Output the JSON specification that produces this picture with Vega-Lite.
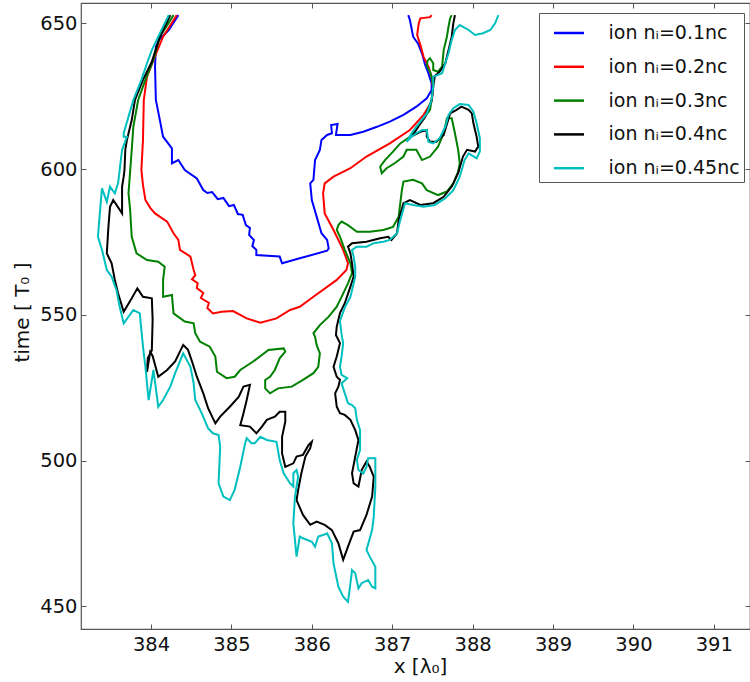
{
"$schema":"https://vega.github.io/schema/vega-lite/v6.json",
"width":669,"height":626,
"autosize":{"type":"none"},
"padding":{"left":81,"top":3,"right":0,"bottom":53},
"background":"white",
"config":{"view":{"stroke":"#555","strokeWidth":1.2},"font":"DejaVu Sans"},
"data":{"values":[
{"s":"0.1","x":384.34,"y":652.8},{"s":"0.1","x":384.22,"y":647.7},{"s":"0.1","x":384.10,"y":644.3},{"s":"0.1","x":384.06,"y":642.0},{"s":"0.1","x":384.05,"y":635.1},{"s":"0.1","x":384.06,"y":623.7},{"s":"0.1","x":384.11,"y":616.8},{"s":"0.1","x":384.15,"y":611.1},{"s":"0.1","x":384.26,"y":607.1},{"s":"0.1","x":384.26,"y":602.0},{"s":"0.1","x":384.34,"y":603.1},{"s":"0.1","x":384.42,"y":599.7},{"s":"0.1","x":384.57,"y":596.8},{"s":"0.1","x":384.65,"y":592.8},{"s":"0.1","x":384.70,"y":591.8},{"s":"0.1","x":384.76,"y":592.1},{"s":"0.1","x":384.83,"y":589.7},{"s":"0.1","x":384.90,"y":590.1},{"s":"0.1","x":384.97,"y":587.3},{"s":"0.1","x":385.03,"y":587.7},{"s":"0.1","x":385.08,"y":584.6},{"s":"0.1","x":385.14,"y":584.3},{"s":"0.1","x":385.18,"y":580.8},{"s":"0.1","x":385.23,"y":579.8},{"s":"0.1","x":385.22,"y":577.4},{"s":"0.1","x":385.28,"y":575.7},{"s":"0.1","x":385.26,"y":573.6},{"s":"0.1","x":385.31,"y":572.3},{"s":"0.1","x":385.31,"y":570.5},{"s":"0.1","x":385.45,"y":570.3},{"s":"0.1","x":385.60,"y":570.0},{"s":"0.1","x":385.63,"y":567.7},{"s":"0.1","x":385.85,"y":569.4},{"s":"0.1","x":386.19,"y":572.0},{"s":"0.1","x":386.21,"y":572.8},{"s":"0.1","x":386.19,"y":575.7},{"s":"0.1","x":386.12,"y":578.0},{"s":"0.1","x":386.06,"y":583.7},{"s":"0.1","x":386.00,"y":589.4},{"s":"0.1","x":385.98,"y":595.1},{"s":"0.1","x":386.02,"y":596.3},{"s":"0.1","x":386.04,"y":603.1},{"s":"0.1","x":386.10,"y":606.6},{"s":"0.1","x":386.12,"y":610.0},{"s":"0.1","x":386.19,"y":611.7},{"s":"0.1","x":386.25,"y":612.3},{"s":"0.1","x":386.24,"y":615.1},{"s":"0.1","x":386.32,"y":615.5},{"s":"0.1","x":386.30,"y":611.7},{"s":"0.1","x":386.48,"y":611.7},{"s":"0.1","x":386.64,"y":612.8},{"s":"0.1","x":386.81,"y":614.5},{"s":"0.1","x":386.97,"y":616.3},{"s":"0.1","x":387.14,"y":618.6},{"s":"0.1","x":387.30,"y":621.4},{"s":"0.1","x":387.43,"y":624.3},{"s":"0.1","x":387.49,"y":627.1},{"s":"0.1","x":387.49,"y":629.4},{"s":"0.1","x":387.45,"y":632.9},{"s":"0.1","x":387.41,"y":635.7},{"s":"0.1","x":387.37,"y":639.7},{"s":"0.1","x":387.32,"y":643.1},{"s":"0.1","x":387.26,"y":645.4},{"s":"0.1","x":387.24,"y":648.3},{"s":"0.1","x":387.22,"y":651.1},{"s":"0.1","x":387.20,"y":652.8},
{"s":"0.2","x":384.32,"y":652.8},{"s":"0.2","x":384.15,"y":645.4},{"s":"0.2","x":384.03,"y":637.4},{"s":"0.2","x":383.95,"y":631.7},{"s":"0.2","x":383.91,"y":623.7},{"s":"0.2","x":383.90,"y":610.0},{"s":"0.2","x":383.88,"y":599.7},{"s":"0.2","x":383.90,"y":594.5},{"s":"0.2","x":383.93,"y":589.4},{"s":"0.2","x":383.99,"y":586.7},{"s":"0.2","x":384.05,"y":584.8},{"s":"0.2","x":384.20,"y":582.0},{"s":"0.2","x":384.28,"y":578.0},{"s":"0.2","x":384.34,"y":575.7},{"s":"0.2","x":384.36,"y":572.3},{"s":"0.2","x":384.49,"y":570.0},{"s":"0.2","x":384.53,"y":565.4},{"s":"0.2","x":384.55,"y":563.6},{"s":"0.2","x":384.51,"y":562.2},{"s":"0.2","x":384.58,"y":560.9},{"s":"0.2","x":384.57,"y":559.2},{"s":"0.2","x":384.65,"y":557.5},{"s":"0.2","x":384.62,"y":555.8},{"s":"0.2","x":384.72,"y":554.1},{"s":"0.2","x":384.70,"y":552.4},{"s":"0.2","x":384.77,"y":550.5},{"s":"0.2","x":384.88,"y":551.1},{"s":"0.2","x":385.02,"y":551.3},{"s":"0.2","x":385.19,"y":548.8},{"s":"0.2","x":385.36,"y":547.3},{"s":"0.2","x":385.56,"y":548.8},{"s":"0.2","x":385.73,"y":551.7},{"s":"0.2","x":385.85,"y":552.8},{"s":"0.2","x":386.02,"y":556.2},{"s":"0.2","x":386.31,"y":562.0},{"s":"0.2","x":386.43,"y":565.4},{"s":"0.2","x":386.45,"y":567.7},{"s":"0.2","x":386.39,"y":572.3},{"s":"0.2","x":386.27,"y":579.1},{"s":"0.2","x":386.16,"y":584.8},{"s":"0.2","x":386.14,"y":591.7},{"s":"0.2","x":386.16,"y":595.1},{"s":"0.2","x":386.27,"y":597.4},{"s":"0.2","x":386.48,"y":600.3},{"s":"0.2","x":386.68,"y":604.3},{"s":"0.2","x":386.97,"y":608.8},{"s":"0.2","x":387.22,"y":613.4},{"s":"0.2","x":387.39,"y":618.6},{"s":"0.2","x":387.49,"y":623.1},{"s":"0.2","x":387.51,"y":627.1},{"s":"0.2","x":387.49,"y":631.7},{"s":"0.2","x":387.45,"y":635.1},{"s":"0.2","x":387.39,"y":638.5},{"s":"0.2","x":387.35,"y":642.6},{"s":"0.2","x":387.31,"y":646.0},{"s":"0.2","x":387.33,"y":650.0},{"s":"0.2","x":387.35,"y":651.7},{"s":"0.2","x":387.47,"y":652.1},{"s":"0.2","x":387.49,"y":652.8},
{"s":"0.3","x":384.28,"y":652.8},{"s":"0.3","x":384.11,"y":645.4},{"s":"0.3","x":384.03,"y":637.4},{"s":"0.3","x":383.93,"y":630.6},{"s":"0.3","x":383.84,"y":623.7},{"s":"0.3","x":383.78,"y":614.5},{"s":"0.3","x":383.76,"y":606.6},{"s":"0.3","x":383.72,"y":591.7},{"s":"0.3","x":383.74,"y":586.0},{"s":"0.3","x":383.76,"y":576.8},{"s":"0.3","x":383.82,"y":571.1},{"s":"0.3","x":383.95,"y":568.8},{"s":"0.3","x":384.09,"y":568.2},{"s":"0.3","x":384.17,"y":566.5},{"s":"0.3","x":384.15,"y":562.0},{"s":"0.3","x":384.15,"y":556.2},{"s":"0.3","x":384.26,"y":556.8},{"s":"0.3","x":384.28,"y":550.5},{"s":"0.3","x":384.42,"y":547.7},{"s":"0.3","x":384.53,"y":547.1},{"s":"0.3","x":384.55,"y":543.7},{"s":"0.3","x":384.61,"y":540.8},{"s":"0.3","x":384.73,"y":539.1},{"s":"0.3","x":384.80,"y":535.7},{"s":"0.3","x":384.82,"y":530.5},{"s":"0.3","x":384.94,"y":528.3},{"s":"0.3","x":385.04,"y":528.8},{"s":"0.3","x":385.11,"y":531.1},{"s":"0.3","x":385.27,"y":534.0},{"s":"0.3","x":385.46,"y":538.0},{"s":"0.3","x":385.65,"y":538.5},{"s":"0.3","x":385.67,"y":537.4},{"s":"0.3","x":385.60,"y":535.1},{"s":"0.3","x":385.54,"y":531.1},{"s":"0.3","x":385.48,"y":528.8},{"s":"0.3","x":385.42,"y":527.7},{"s":"0.3","x":385.42,"y":524.8},{"s":"0.3","x":385.48,"y":523.1},{"s":"0.3","x":385.58,"y":524.8},{"s":"0.3","x":385.75,"y":525.4},{"s":"0.3","x":385.89,"y":527.7},{"s":"0.3","x":386.02,"y":530.0},{"s":"0.3","x":386.08,"y":532.2},{"s":"0.3","x":386.10,"y":536.8},{"s":"0.3","x":386.06,"y":539.7},{"s":"0.3","x":386.04,"y":542.5},{"s":"0.3","x":386.02,"y":543.7},{"s":"0.3","x":386.10,"y":546.5},{"s":"0.3","x":386.21,"y":549.4},{"s":"0.3","x":386.31,"y":552.8},{"s":"0.3","x":386.37,"y":556.2},{"s":"0.3","x":386.45,"y":560.8},{"s":"0.3","x":386.50,"y":564.3},{"s":"0.3","x":386.48,"y":567.7},{"s":"0.3","x":386.41,"y":572.3},{"s":"0.3","x":386.35,"y":576.8},{"s":"0.3","x":386.31,"y":579.1},{"s":"0.3","x":386.33,"y":580.8},{"s":"0.3","x":386.37,"y":582.0},{"s":"0.3","x":386.45,"y":580.8},{"s":"0.3","x":386.56,"y":578.5},{"s":"0.3","x":386.72,"y":578.5},{"s":"0.3","x":386.89,"y":579.1},{"s":"0.3","x":387.01,"y":580.2},{"s":"0.3","x":387.08,"y":583.7},{"s":"0.3","x":387.12,"y":592.8},{"s":"0.3","x":387.14,"y":595.7},{"s":"0.3","x":387.26,"y":596.3},{"s":"0.3","x":387.37,"y":595.1},{"s":"0.3","x":387.43,"y":592.8},{"s":"0.3","x":387.57,"y":591.1},{"s":"0.3","x":387.68,"y":592.3},{"s":"0.3","x":387.76,"y":595.1},{"s":"0.3","x":387.82,"y":599.1},{"s":"0.3","x":387.84,"y":602.0},{"s":"0.3","x":387.82,"y":606.6},{"s":"0.3","x":387.78,"y":612.3},{"s":"0.3","x":387.74,"y":617.4},{"s":"0.3","x":387.68,"y":617.4},{"s":"0.3","x":387.64,"y":612.3},{"s":"0.3","x":387.57,"y":607.7},{"s":"0.3","x":387.47,"y":604.3},{"s":"0.3","x":387.37,"y":603.1},{"s":"0.3","x":387.30,"y":606.6},{"s":"0.3","x":387.18,"y":606.6},{"s":"0.3","x":387.14,"y":604.3},{"s":"0.3","x":387.03,"y":602.0},{"s":"0.3","x":386.93,"y":600.3},{"s":"0.3","x":386.87,"y":598.6},{"s":"0.3","x":386.85,"y":600.8},{"s":"0.3","x":386.91,"y":603.1},{"s":"0.3","x":387.01,"y":606.0},{"s":"0.3","x":387.10,"y":608.8},{"s":"0.3","x":387.22,"y":611.1},{"s":"0.3","x":387.30,"y":614.5},{"s":"0.3","x":387.39,"y":617.4},{"s":"0.3","x":387.47,"y":620.3},{"s":"0.3","x":387.49,"y":623.7},{"s":"0.3","x":387.51,"y":628.3},{"s":"0.3","x":387.49,"y":631.7},{"s":"0.3","x":387.47,"y":633.4},{"s":"0.3","x":387.43,"y":635.4},{"s":"0.3","x":387.44,"y":637.2},{"s":"0.3","x":387.47,"y":638.0},{"s":"0.3","x":387.51,"y":636.3},{"s":"0.3","x":387.51,"y":634.0},{"s":"0.3","x":387.57,"y":633.4},{"s":"0.3","x":387.62,"y":635.1},{"s":"0.3","x":387.64,"y":640.8},{"s":"0.3","x":387.68,"y":645.4},{"s":"0.3","x":387.70,"y":648.8},{"s":"0.3","x":387.72,"y":651.7},{"s":"0.3","x":387.74,"y":652.8},
{"s":"0.4","x":384.24,"y":652.8},{"s":"0.4","x":384.11,"y":645.4},{"s":"0.4","x":384.01,"y":636.8},{"s":"0.4","x":383.90,"y":630.6},{"s":"0.4","x":383.80,"y":623.7},{"s":"0.4","x":383.76,"y":616.8},{"s":"0.4","x":383.70,"y":610.0},{"s":"0.4","x":383.68,"y":606.6},{"s":"0.4","x":383.67,"y":599.7},{"s":"0.4","x":383.66,"y":597.4},{"s":"0.4","x":383.64,"y":594.0},{"s":"0.4","x":383.64,"y":584.8},{"s":"0.4","x":383.53,"y":589.4},{"s":"0.4","x":383.49,"y":587.1},{"s":"0.4","x":383.47,"y":580.2},{"s":"0.4","x":383.45,"y":571.1},{"s":"0.4","x":383.51,"y":567.7},{"s":"0.4","x":383.55,"y":562.0},{"s":"0.4","x":383.59,"y":557.4},{"s":"0.4","x":383.66,"y":551.1},{"s":"0.4","x":383.76,"y":555.7},{"s":"0.4","x":383.83,"y":559.1},{"s":"0.4","x":383.90,"y":556.2},{"s":"0.4","x":384.01,"y":555.7},{"s":"0.4","x":384.02,"y":548.3},{"s":"0.4","x":384.01,"y":537.9},{"s":"0.4","x":383.96,"y":535.2},{"s":"0.4","x":383.95,"y":530.5},{"s":"0.4","x":383.99,"y":537.3},{"s":"0.4","x":384.02,"y":535.9},{"s":"0.4","x":384.09,"y":528.8},{"s":"0.4","x":384.20,"y":531.1},{"s":"0.4","x":384.30,"y":534.0},{"s":"0.4","x":384.40,"y":539.7},{"s":"0.4","x":384.46,"y":538.0},{"s":"0.4","x":384.51,"y":534.0},{"s":"0.4","x":384.57,"y":528.8},{"s":"0.4","x":384.65,"y":523.1},{"s":"0.4","x":384.71,"y":518.0},{"s":"0.4","x":384.80,"y":512.8},{"s":"0.4","x":384.86,"y":515.1},{"s":"0.4","x":384.98,"y":518.5},{"s":"0.4","x":385.09,"y":521.9},{"s":"0.4","x":385.15,"y":525.4},{"s":"0.4","x":385.23,"y":526.0},{"s":"0.4","x":385.19,"y":520.8},{"s":"0.4","x":385.15,"y":516.3},{"s":"0.4","x":385.11,"y":512.2},{"s":"0.4","x":385.23,"y":511.7},{"s":"0.4","x":385.31,"y":509.4},{"s":"0.4","x":385.38,"y":511.7},{"s":"0.4","x":385.44,"y":514.0},{"s":"0.4","x":385.54,"y":515.1},{"s":"0.4","x":385.60,"y":516.8},{"s":"0.4","x":385.67,"y":516.8},{"s":"0.4","x":385.67,"y":513.4},{"s":"0.4","x":385.63,"y":508.2},{"s":"0.4","x":385.63,"y":502.5},{"s":"0.4","x":385.67,"y":497.9},{"s":"0.4","x":385.77,"y":499.1},{"s":"0.4","x":385.81,"y":501.4},{"s":"0.4","x":385.89,"y":502.0},{"s":"0.4","x":385.96,"y":505.4},{"s":"0.4","x":386.00,"y":506.5},{"s":"0.4","x":385.98,"y":504.3},{"s":"0.4","x":385.92,"y":501.4},{"s":"0.4","x":385.87,"y":495.7},{"s":"0.4","x":385.83,"y":490.0},{"s":"0.4","x":385.81,"y":486.5},{"s":"0.4","x":385.89,"y":481.4},{"s":"0.4","x":385.98,"y":478.0},{"s":"0.4","x":386.06,"y":479.1},{"s":"0.4","x":386.16,"y":478.0},{"s":"0.4","x":386.25,"y":476.2},{"s":"0.4","x":386.33,"y":471.7},{"s":"0.4","x":386.39,"y":466.0},{"s":"0.4","x":386.45,"y":470.5},{"s":"0.4","x":386.52,"y":475.7},{"s":"0.4","x":386.60,"y":476.2},{"s":"0.4","x":386.68,"y":481.4},{"s":"0.4","x":386.75,"y":487.7},{"s":"0.4","x":386.77,"y":494.5},{"s":"0.4","x":386.72,"y":497.9},{"s":"0.4","x":386.68,"y":499.7},{"s":"0.4","x":386.62,"y":496.8},{"s":"0.4","x":386.58,"y":491.1},{"s":"0.4","x":386.52,"y":492.2},{"s":"0.4","x":386.50,"y":495.7},{"s":"0.4","x":386.54,"y":501.4},{"s":"0.4","x":386.58,"y":507.1},{"s":"0.4","x":386.54,"y":510.5},{"s":"0.4","x":386.48,"y":514.0},{"s":"0.4","x":386.41,"y":515.7},{"s":"0.4","x":386.35,"y":516.3},{"s":"0.4","x":386.31,"y":518.5},{"s":"0.4","x":386.29,"y":523.1},{"s":"0.4","x":386.33,"y":525.4},{"s":"0.4","x":386.35,"y":527.7},{"s":"0.4","x":386.31,"y":528.8},{"s":"0.4","x":386.27,"y":532.2},{"s":"0.4","x":386.31,"y":535.7},{"s":"0.4","x":386.35,"y":540.3},{"s":"0.4","x":386.30,"y":543.1},{"s":"0.4","x":386.31,"y":546.0},{"s":"0.4","x":386.35,"y":550.6},{"s":"0.4","x":386.41,"y":554.0},{"s":"0.4","x":386.48,"y":559.7},{"s":"0.4","x":386.52,"y":563.1},{"s":"0.4","x":386.50,"y":567.7},{"s":"0.4","x":386.48,"y":571.1},{"s":"0.4","x":386.45,"y":573.4},{"s":"0.4","x":386.50,"y":574.6},{"s":"0.4","x":386.68,"y":575.1},{"s":"0.4","x":386.85,"y":576.3},{"s":"0.4","x":386.95,"y":576.8},{"s":"0.4","x":386.99,"y":575.7},{"s":"0.4","x":387.06,"y":578.0},{"s":"0.4","x":387.08,"y":582.5},{"s":"0.4","x":387.14,"y":588.3},{"s":"0.4","x":387.22,"y":589.4},{"s":"0.4","x":387.35,"y":587.7},{"s":"0.4","x":387.51,"y":588.3},{"s":"0.4","x":387.64,"y":590.5},{"s":"0.4","x":387.74,"y":594.0},{"s":"0.4","x":387.82,"y":598.6},{"s":"0.4","x":387.88,"y":604.3},{"s":"0.4","x":387.93,"y":606.6},{"s":"0.4","x":388.03,"y":606.0},{"s":"0.4","x":388.07,"y":607.7},{"s":"0.4","x":388.05,"y":611.1},{"s":"0.4","x":388.01,"y":615.7},{"s":"0.4","x":387.99,"y":619.1},{"s":"0.4","x":387.95,"y":620.3},{"s":"0.4","x":387.86,"y":621.4},{"s":"0.4","x":387.80,"y":620.3},{"s":"0.4","x":387.72,"y":619.1},{"s":"0.4","x":387.64,"y":611.7},{"s":"0.4","x":387.55,"y":609.4},{"s":"0.4","x":387.47,"y":609.4},{"s":"0.4","x":387.43,"y":611.1},{"s":"0.4","x":387.43,"y":613.4},{"s":"0.4","x":387.35,"y":612.8},{"s":"0.4","x":387.25,"y":611.4},{"s":"0.4","x":387.32,"y":614.4},{"s":"0.4","x":387.41,"y":617.9},{"s":"0.4","x":387.49,"y":623.7},{"s":"0.4","x":387.51,"y":628.3},{"s":"0.4","x":387.53,"y":631.9},{"s":"0.4","x":387.59,"y":633.4},{"s":"0.4","x":387.66,"y":636.3},{"s":"0.4","x":387.70,"y":640.8},{"s":"0.4","x":387.74,"y":645.4},{"s":"0.4","x":387.76,"y":650.0},{"s":"0.4","x":387.78,"y":652.8},
{"s":"0.45","x":384.22,"y":652.8},{"s":"0.45","x":384.07,"y":644.3},{"s":"0.45","x":384.01,"y":640.8},{"s":"0.45","x":383.95,"y":636.3},{"s":"0.45","x":383.88,"y":630.6},{"s":"0.45","x":383.78,"y":623.7},{"s":"0.45","x":383.72,"y":618.0},{"s":"0.45","x":383.66,"y":612.3},{"s":"0.45","x":383.66,"y":611.1},{"s":"0.45","x":383.70,"y":611.1},{"s":"0.45","x":383.64,"y":606.6},{"s":"0.45","x":383.61,"y":599.7},{"s":"0.45","x":383.59,"y":595.1},{"s":"0.45","x":383.55,"y":591.7},{"s":"0.45","x":383.49,"y":594.0},{"s":"0.45","x":383.45,"y":588.8},{"s":"0.45","x":383.39,"y":593.4},{"s":"0.45","x":383.37,"y":587.1},{"s":"0.45","x":383.34,"y":576.8},{"s":"0.45","x":383.39,"y":572.3},{"s":"0.45","x":383.45,"y":565.4},{"s":"0.45","x":383.51,"y":563.1},{"s":"0.45","x":383.57,"y":558.5},{"s":"0.45","x":383.61,"y":552.8},{"s":"0.45","x":383.66,"y":547.1},{"s":"0.45","x":383.78,"y":551.7},{"s":"0.45","x":383.86,"y":550.5},{"s":"0.45","x":383.90,"y":539.1},{"s":"0.45","x":383.93,"y":532.2},{"s":"0.45","x":383.97,"y":520.8},{"s":"0.45","x":384.03,"y":531.1},{"s":"0.45","x":384.09,"y":518.5},{"s":"0.45","x":384.15,"y":520.8},{"s":"0.45","x":384.24,"y":525.4},{"s":"0.45","x":384.30,"y":530.0},{"s":"0.45","x":384.40,"y":536.8},{"s":"0.45","x":384.49,"y":532.2},{"s":"0.45","x":384.53,"y":526.5},{"s":"0.45","x":384.55,"y":520.8},{"s":"0.45","x":384.63,"y":516.3},{"s":"0.45","x":384.71,"y":511.1},{"s":"0.45","x":384.77,"y":509.4},{"s":"0.45","x":384.84,"y":508.8},{"s":"0.45","x":384.86,"y":504.8},{"s":"0.45","x":384.84,"y":492.2},{"s":"0.45","x":384.90,"y":487.7},{"s":"0.45","x":384.98,"y":486.5},{"s":"0.45","x":385.04,"y":490.0},{"s":"0.45","x":385.11,"y":497.9},{"s":"0.45","x":385.17,"y":505.9},{"s":"0.45","x":385.19,"y":507.7},{"s":"0.45","x":385.25,"y":506.0},{"s":"0.45","x":385.29,"y":506.0},{"s":"0.45","x":385.36,"y":508.2},{"s":"0.45","x":385.44,"y":507.1},{"s":"0.45","x":385.56,"y":506.5},{"s":"0.45","x":385.60,"y":500.2},{"s":"0.45","x":385.65,"y":495.7},{"s":"0.45","x":385.73,"y":492.2},{"s":"0.45","x":385.77,"y":491.1},{"s":"0.45","x":385.77,"y":495.7},{"s":"0.45","x":385.81,"y":496.8},{"s":"0.45","x":385.83,"y":494.5},{"s":"0.45","x":385.79,"y":487.7},{"s":"0.45","x":385.77,"y":478.5},{"s":"0.45","x":385.81,"y":467.1},{"s":"0.45","x":385.85,"y":474.0},{"s":"0.45","x":385.89,"y":473.4},{"s":"0.45","x":386.00,"y":472.2},{"s":"0.45","x":386.04,"y":470.5},{"s":"0.45","x":386.08,"y":474.0},{"s":"0.45","x":386.14,"y":474.5},{"s":"0.45","x":386.19,"y":475.1},{"s":"0.45","x":386.25,"y":471.7},{"s":"0.45","x":386.27,"y":464.8},{"s":"0.45","x":386.33,"y":456.8},{"s":"0.45","x":386.39,"y":453.4},{"s":"0.45","x":386.45,"y":451.6},{"s":"0.45","x":386.48,"y":457.9},{"s":"0.45","x":386.50,"y":462.5},{"s":"0.45","x":386.54,"y":461.4},{"s":"0.45","x":386.58,"y":456.2},{"s":"0.45","x":386.62,"y":458.0},{"s":"0.45","x":386.70,"y":459.1},{"s":"0.45","x":386.75,"y":456.8},{"s":"0.45","x":386.79,"y":456.2},{"s":"0.45","x":386.79,"y":463.6},{"s":"0.45","x":386.72,"y":467.1},{"s":"0.45","x":386.68,"y":469.4},{"s":"0.45","x":386.75,"y":476.2},{"s":"0.45","x":386.77,"y":480.8},{"s":"0.45","x":386.79,"y":491.1},{"s":"0.45","x":386.79,"y":500.8},{"s":"0.45","x":386.70,"y":500.8},{"s":"0.45","x":386.68,"y":497.9},{"s":"0.45","x":386.64,"y":495.6},{"s":"0.45","x":386.58,"y":496.8},{"s":"0.45","x":386.56,"y":500.2},{"s":"0.45","x":386.60,"y":503.7},{"s":"0.45","x":386.60,"y":510.5},{"s":"0.45","x":386.56,"y":514.0},{"s":"0.45","x":386.54,"y":518.0},{"s":"0.45","x":386.50,"y":519.1},{"s":"0.45","x":386.45,"y":519.7},{"s":"0.45","x":386.41,"y":523.1},{"s":"0.45","x":386.37,"y":526.5},{"s":"0.45","x":386.44,"y":528.3},{"s":"0.45","x":386.37,"y":529.4},{"s":"0.45","x":386.35,"y":532.2},{"s":"0.45","x":386.37,"y":535.7},{"s":"0.45","x":386.39,"y":540.3},{"s":"0.45","x":386.37,"y":543.3},{"s":"0.45","x":386.35,"y":547.9},{"s":"0.45","x":386.41,"y":552.5},{"s":"0.45","x":386.48,"y":556.2},{"s":"0.45","x":386.54,"y":563.1},{"s":"0.45","x":386.54,"y":566.5},{"s":"0.45","x":386.52,"y":570.0},{"s":"0.45","x":386.50,"y":572.3},{"s":"0.45","x":386.56,"y":573.4},{"s":"0.45","x":386.68,"y":573.4},{"s":"0.45","x":386.77,"y":574.6},{"s":"0.45","x":386.89,"y":575.1},{"s":"0.45","x":386.97,"y":575.7},{"s":"0.45","x":387.06,"y":578.0},{"s":"0.45","x":387.10,"y":582.5},{"s":"0.45","x":387.16,"y":588.3},{"s":"0.45","x":387.26,"y":587.7},{"s":"0.45","x":387.39,"y":587.1},{"s":"0.45","x":387.53,"y":587.7},{"s":"0.45","x":387.66,"y":590.0},{"s":"0.45","x":387.76,"y":592.8},{"s":"0.45","x":387.84,"y":597.4},{"s":"0.45","x":387.90,"y":603.1},{"s":"0.45","x":387.95,"y":605.4},{"s":"0.45","x":388.05,"y":603.7},{"s":"0.45","x":388.09,"y":606.0},{"s":"0.45","x":388.09,"y":610.6},{"s":"0.45","x":388.05,"y":615.7},{"s":"0.45","x":388.01,"y":619.7},{"s":"0.45","x":387.95,"y":622.0},{"s":"0.45","x":387.84,"y":622.3},{"s":"0.45","x":387.76,"y":620.9},{"s":"0.45","x":387.70,"y":618.6},{"s":"0.45","x":387.66,"y":614.5},{"s":"0.45","x":387.59,"y":610.6},{"s":"0.45","x":387.51,"y":608.8},{"s":"0.45","x":387.45,"y":609.4},{"s":"0.45","x":387.43,"y":613.4},{"s":"0.45","x":387.37,"y":613.4},{"s":"0.45","x":387.30,"y":612.3},{"s":"0.45","x":387.24,"y":611.1},{"s":"0.45","x":387.18,"y":609.4},{"s":"0.45","x":387.24,"y":612.3},{"s":"0.45","x":387.35,"y":616.3},{"s":"0.45","x":387.43,"y":619.1},{"s":"0.45","x":387.49,"y":623.7},{"s":"0.45","x":387.51,"y":628.3},{"s":"0.45","x":387.51,"y":631.7},{"s":"0.45","x":387.57,"y":632.3},{"s":"0.45","x":387.62,"y":632.9},{"s":"0.45","x":387.66,"y":636.3},{"s":"0.45","x":387.70,"y":639.7},{"s":"0.45","x":387.74,"y":644.3},{"s":"0.45","x":387.78,"y":647.7},{"s":"0.45","x":387.84,"y":649.4},{"s":"0.45","x":387.95,"y":647.7},{"s":"0.45","x":388.03,"y":646.0},{"s":"0.45","x":388.13,"y":646.6},{"s":"0.45","x":388.22,"y":647.7},{"s":"0.45","x":388.28,"y":650.0},{"s":"0.45","x":388.32,"y":652.8}
]},
"layer":[
{"mark":{"type":"line","strokeWidth":2,"clip":true},
 "encoding":{
  "x":{"field":"x","type":"quantitative","scale":{"domain":[383.129,391.45],"nice":false,"zero":false},
       "axis":{"orient":"bottom","values":[384,385,386,387,388,389,390,391],"format":"d","grid":false,"domain":false,"tickSize":-5,"tickColor":"#555","labelPadding":11,"labelFontSize":19.5,"labelColor":"#111","labelFont":"DejaVu Sans","title":"x [λ₀]","titleFontSize":20,"titleFontWeight":"normal","titleColor":"#111","titleFont":"DejaVu Sans","titleX":339,"titleY":37,"titleBaseline":"middle","titleAlign":"center"}},
  "y":{"field":"y","type":"quantitative","scale":{"domain":[442.28,656.96],"nice":false,"zero":false},
       "axis":{"orient":"left","values":[450,500,550,600,650],"format":"d","grid":false,"domain":false,"tickSize":-5,"tickColor":"#555","labelPadding":9,"labelFontSize":19.5,"labelColor":"#111","labelFont":"DejaVu Sans","title":"time [ T₀ ]","titleFontSize":20,"titleFontWeight":"normal","titleColor":"#111","titleFont":"DejaVu Sans","titleX":-59,"titleY":309,"titleAngle":-90,"titleBaseline":"middle","titleAlign":"center"}},
  "color":{"field":"s","type":"nominal","scale":{"domain":["0.1","0.2","0.3","0.4","0.45"],"range":["#0000ff","#ff0000","#008000","#000000","#00bfbf"]},
       "legend":{"orient":"none","legendX":458,"legendY":10,"title":null,"symbolType":"stroke","symbolSize":900,"symbolStrokeWidth":2.5,"symbolOffset":10,"labelFontSize":19,"labelFont":"DejaVu Sans","labelColor":"#111","labelOffset":23,"rowPadding":6.8,"padding":3.5,"strokeColor":"#555","fillColor":"white","labelLimit":300,"labelExpr":"'ion nᵢ=' + datum.label + 'nc'"}},
  "order":{"value":null}
 }},
{"mark":{"type":"line","opacity":0},
 "encoding":{
  "x":{"field":"x","type":"quantitative","axis":{"orient":"top","values":[384,385,386,387,388,389,390,391],"labels":false,"domain":false,"grid":false,"tickSize":-5,"tickColor":"#555","title":null}},
  "y":{"field":"y","type":"quantitative","axis":{"orient":"right","values":[450,500,550,600,650],"labels":false,"domain":false,"grid":false,"tickSize":-5,"tickColor":"#555","title":null}},
  "detail":{"field":"s"}
 }}
],
"resolve":{"axis":{"x":"independent","y":"independent"}}
}
